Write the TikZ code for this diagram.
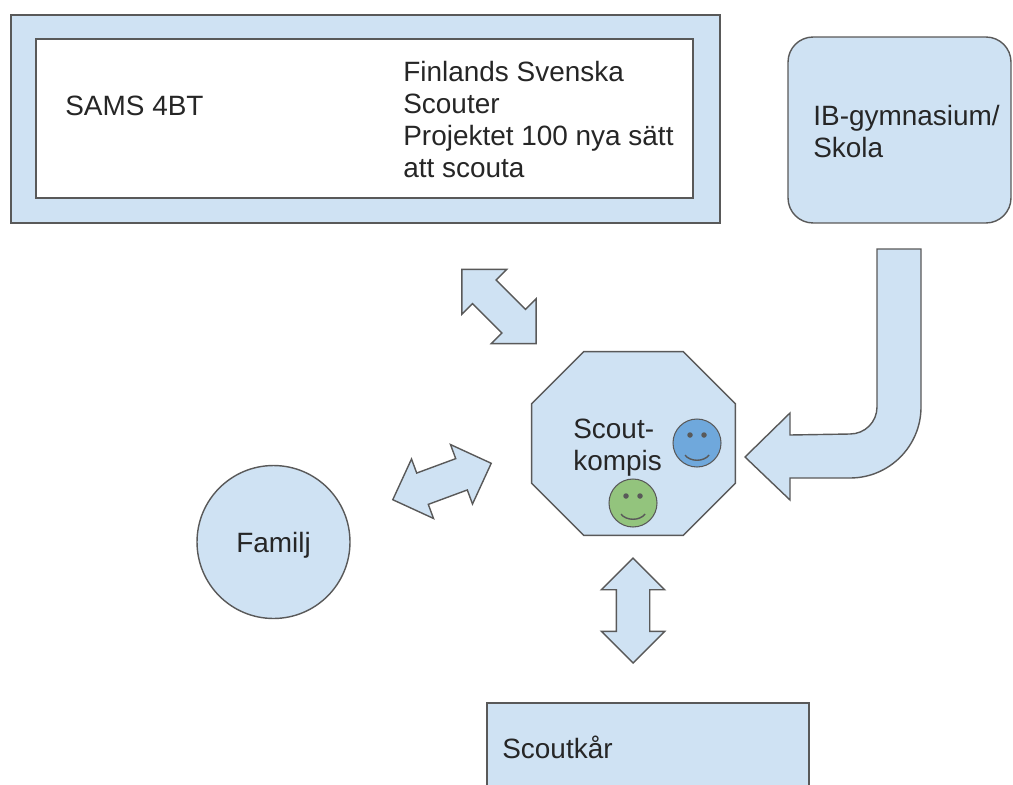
\documentclass[tikz,border=0pt]{standalone}
\usepackage{fontspec}
\setmainfont{Liberation Sans}
\usepackage{tikz}
\usetikzlibrary{shapes.arrows}

\definecolor{boxblue}{HTML}{CFE2F3}
\definecolor{smileblue}{HTML}{6FA8DC}
\definecolor{smilegreen}{HTML}{93C47D}
\definecolor{edgegray}{HTML}{595959}

\tikzset{
	every node/.style={font=\fontsize{15.9}{18.2}\selectfont, text=black!85},
	blk/.style={draw=edgegray, line width=0.8pt, fill=boxblue},
	dblarrow/.style={blk, double arrow, inner xsep=0pt, inner ysep=0.32cm, minimum height=2.1cm, double arrow head extend=0.3cm},
	smiley/.style={draw=edgegray, line width=0.6pt, circle, inner sep=0pt, minimum size=0.96cm},
	txt/.style={anchor=base west, inner sep=0pt, align=left}
}

\begin{document}
\begin{tikzpicture}[x=0.02cm, y=-0.02cm]
	\clip (0,0) rectangle (1013,784);

		\node (fss) at (365.5,119) [blk, rectangle, minimum width=14.18cm, minimum height=4.16cm] {};
		\node (fssin) at (364.5,118.5) [draw=edgegray, line width=0.8pt, fill=white, rectangle, minimum width=13.14cm, minimum height=3.18cm] {};
		\node (sams) at (65,115) [txt] {SAMS 4BT};
		\node (fsstext) at (403,177) [txt] {Finlands Svenska\\Scouter\\Projektet 100 nya sätt\\att scouta};

		\node (ib) at (899.5,130) [blk, rectangle, rounded corners=0.5cm, minimum width=4.46cm, minimum height=3.72cm] {};
		\node (ibtext) at (813,157) [txt] {IB-gymnasium/\\Skola};

		\node (kompis) at (633.5,443.5) [rectangle, inner sep=0pt, minimum width=4.06cm, minimum height=3.66cm] {};
		\draw[blk] ([xshift=1.04cm]kompis.north west) -- ([xshift=-1.04cm]kompis.north east) -- ([yshift=-1.04cm]kompis.north east) -- ([yshift=1.04cm]kompis.south east) -- ([xshift=-1.04cm]kompis.south east) -- ([xshift=1.04cm]kompis.south west) -- ([yshift=1.04cm]kompis.south west) -- ([yshift=-1.04cm]kompis.north west) -- cycle;
		\node (kompistext) at (573,470) [txt] {Scout-\\kompis};
		\node (bluesmile) at (697,443) [smiley, fill=smileblue] {};
		\node (greensmile) at (633,503) [smiley, fill=smilegreen] {};
		\fill[edgegray] ([shift={(-7,-8)}]bluesmile.center) circle (0.055cm);
		\fill[edgegray] ([shift={(7,-8)}]bluesmile.center) circle (0.055cm);
		\draw[edgegray, line width=0.8pt] ([shift={(-12,12)}]bluesmile.center) .. controls +(5,7) and +(-5,7) .. ([shift={(12,12)}]bluesmile.center);
		\fill[edgegray] ([shift={(-7,-7)}]greensmile.center) circle (0.055cm);
		\fill[edgegray] ([shift={(7,-7)}]greensmile.center) circle (0.055cm);
		\draw[edgegray, line width=0.8pt] ([shift={(-12,11)}]greensmile.center) .. controls +(5,7) and +(-5,7) .. ([shift={(12,11)}]greensmile.center);

		\node (familj) at (273.5,542) [blk, circle, minimum size=3.06cm, inner sep=0pt, text depth=0pt] {Familj};

		\node (kar) at (648,752) [blk, rectangle, minimum width=6.44cm, minimum height=1.96cm] {};
		\node (kartext) at (502,758) [txt] {Scoutkår};

		\node (arrfss) at (499,306.5) [dblarrow, rotate=-45] {};
		\node (arrfam) at (442,481.5) [dblarrow, rotate=20.3] {};
		\node (arrkar) at (633,610.5) [dblarrow, rotate=90] {};

		\draw[blk] (877,249) -- (877,407) arc[start angle=0, end angle=90, radius=27] -- (790,435) -- (790,413) -- (745,457) -- (790,500) -- (790,478) -- (850,478) arc[start angle=90, end angle=0, radius=71] -- (921,249) -- cycle;
\end{tikzpicture}
\end{document}
